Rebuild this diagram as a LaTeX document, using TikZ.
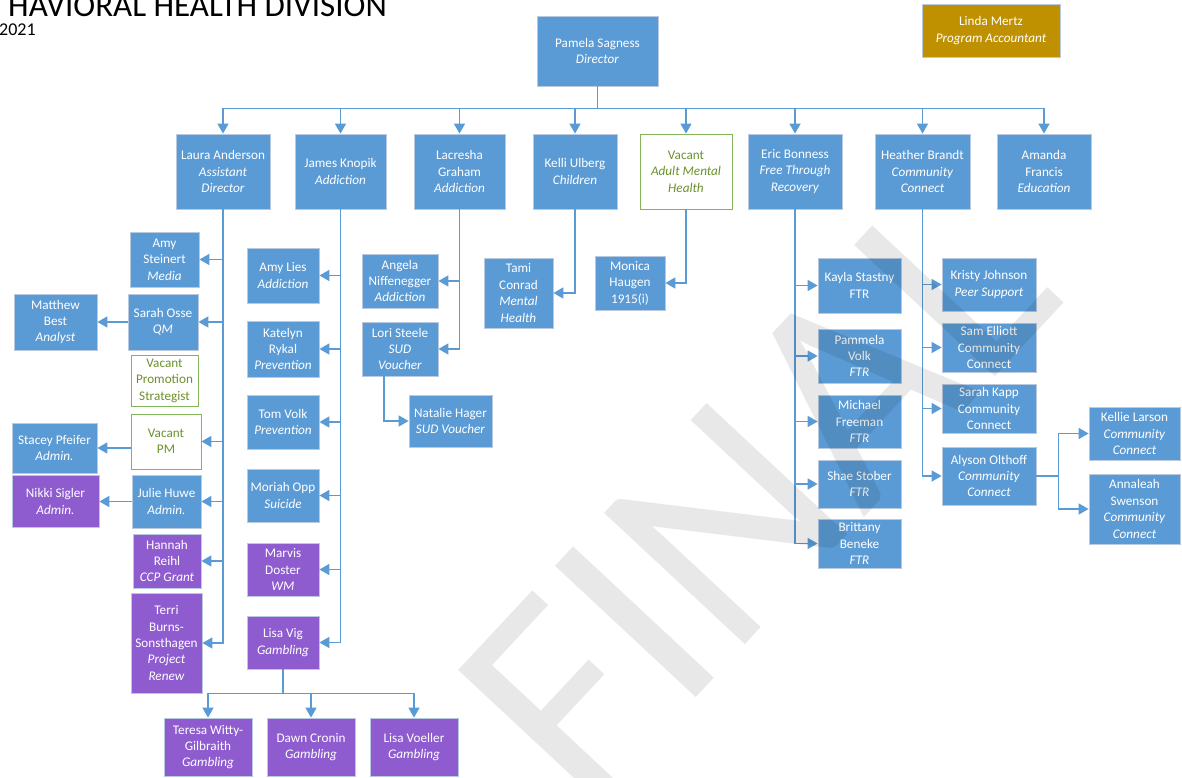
\documentclass[tikz,border=0pt]{standalone}
\usepackage{fontspec}
\setmainfont{Carlito}
\usetikzlibrary{arrows.meta}

\definecolor{boxblue}{RGB}{91,155,213}
\definecolor{boxpurple}{RGB}{143,92,208}
\definecolor{boxgold}{RGB}{191,144,0}
\definecolor{edgegrey}{RGB}{185,202,224}
\definecolor{vacgreen}{RGB}{130,180,90}
\definecolor{vactext}{RGB}{109,145,45}
\definecolor{linkblue}{RGB}{91,155,213}
\newcommand{\orgfont}{\fontsize{13.2}{16.4}\selectfont}

\tikzset{>={Triangle[length=10pt,width=11pt]}}
\tikzset{
  staff/.style={draw=edgegrey, line width=0.8pt, fill=boxblue, text=white,
    align=center, inner sep=0pt, font=\orgfont},
  staffp/.style={staff, fill=boxpurple},
  vacant/.style={staff, draw=vacgreen, fill=white, text=vactext},
  wh/.style 2 args={minimum width=#1pt, minimum height=#2pt},
  link/.style={draw=linkblue, line width=1.6pt, ->},
}

\begin{document}
\begin{tikzpicture}[x=1pt,y=-1pt]
  \useasboundingbox (0,0) rectangle (1182,778);
  \clip (0,0) rectangle (1182,778);
  \node[anchor=base west, font=\fontsize{33}{33}\selectfont, inner sep=0pt] (title) at (8,17) {HAVIORAL HEALTH DIVISION};
  \node[anchor=base west, font=\fontsize{18}{18}\selectfont, inner sep=0pt] (year) at (-1,36) {2021};

  % top of the chart
  \node[staff, wh={121}{70}] (director) at (597.5,51) {Pamela Sagness\\\textit{Director}};
  \node[staff, fill=boxgold, wh={138}{53}] (accountant) at (991,30.5) {Linda Mertz\\\textit{Program Accountant}};

  \node[staff, wh={94}{75}] (laura) at (223,171.5) {Laura Anderson\\\textit{Assistant}\\\textit{Director}};
  \node[staff, wh={91}{75}] (james) at (340.5,171.5) {James Knopik\\\textit{Addiction}};
  \node[staff, wh={91}{75}] (lacresha) at (459.5,171.5) {Lacresha\\Graham\\\textit{Addiction}};
  \node[staff, wh={84}{75}] (kelli) at (575,171.5) {Kelli Ulberg\\\textit{Children}};
  \node[vacant, wh={92}{75}] (vacamh) at (686,171.5) {Vacant\\\textit{Adult Mental}\\\textit{Health}};
  \node[staff, wh={94}{75}] (eric) at (795,171.5) {Eric Bonness\\\textit{Free Through}\\\textit{Recovery}};
  \node[staff, wh={95}{75}] (heather) at (922.5,171.5) {Heather Brandt\\\textit{Community}\\\textit{Connect}};
  \node[staff, wh={94}{75}] (amanda) at (1044,171.5) {Amanda\\Francis\\\textit{Education}};

  \foreach \n in {laura,james,lacresha,kelli,vacamh,eric,heather,amanda}
    \draw[link] (director.south) -- ++(0,22) -| (\n.north);

  % assistant director
  \node[staff, wh={69}{55}] (amys) at (164.5,259.5) {Amy\\Steinert\\\textit{Media}};
  \node[staff, wh={70}{56}] (sarah) at (163,322) {Sarah Osse\\\textit{QM}};
  \node[staff, wh={83}{56}] (matthew) at (55.5,322) {Matthew\\Best\\\textit{Analyst}};
  \node[vacant, wh={67}{51}] (vacps) at (164.5,380.5) {Vacant\\Promotion\\Strategist};
  \node[vacant, wh={70}{55}] (vacpm) at (166,441.5) {Vacant\\PM};
  \node[staff, wh={85}{50}] (stacey) at (54.5,448) {Stacey Pfeifer\\\textit{Admin.}};
  \node[staff, wh={69}{53}] (julie) at (166.5,501.5) {Julie Huwe\\\textit{Admin.}};
  \node[staffp, wh={87}{52}] (nikki) at (55.5,501.5) {Nikki Sigler\\\textit{Admin.}};
  \node[staffp, wh={68}{54}] (hannah) at (167,561) {Hannah\\Reihl\\\textit{CCP Grant}};
  \node[staffp, wh={71}{100}] (terri) at (166.5,643) {Terri\\Burns-\\Sonsthagen\\\textit{Project}\\\textit{Renew}};

  \foreach \n in {amys,sarah,vacpm,julie,hannah,terri}
    \draw[link] (laura.south) |- (\n.east);
  \draw[link] (sarah.west) -- (matthew.east);
  \draw[link] (vacpm.west |- stacey.east) -- (stacey.east);
  \draw[link] (julie.west) -- (nikki.east);

  % addiction
  \node[staff, wh={72}{55}] (amyl) at (283,275.5) {Amy Lies\\\textit{Addiction}};
  \node[staff, wh={72}{56}] (katelyn) at (283,349) {Katelyn\\Rykal\\\textit{Prevention}};
  \node[staff, wh={72}{54}] (tom) at (283,422) {Tom Volk\\\textit{Prevention}};
  \node[staff, wh={72}{53}] (moriah) at (283,495.5) {Moriah Opp\\\textit{Suicide}};
  \node[staffp, wh={72}{53}] (marvis) at (283,569.5) {Marvis\\Doster\\\textit{WM}};
  \node[staffp, wh={72}{53}] (lisavig) at (283,642.5) {Lisa Vig\\\textit{Gambling}};
  \node[staffp, wh={88}{58}] (teresa) at (208,747) {Teresa Witty-\\Gilbraith\\\textit{Gambling}};
  \node[staffp, wh={88}{58}] (dawn) at (311,747) {Dawn Cronin\\\textit{Gambling}};
  \node[staffp, wh={88}{58}] (lisavoeller) at (414,747) {Lisa Voeller\\\textit{Gambling}};

  \foreach \n in {amyl,katelyn,tom,moriah,marvis,lisavig}
    \draw[link] (james.south) |- (\n.east);
  \foreach \n in {teresa,dawn,lisavoeller}
    \draw[link] (lisavig.south) -- ++(0,24) -| (\n.north);

  \node[staff, wh={76}{54}] (angela) at (400,281) {Angela\\Niffenegger\\\textit{Addiction}};
  \node[staff, wh={76}{54}] (lori) at (400,349) {Lori Steele\\\textit{SUD}\\\textit{Voucher}};
  \node[staff, wh={83}{52}] (natalie) at (450.5,421) {Natalie Hager\\\textit{SUD Voucher}};
  \draw[link] (lacresha.south) |- (angela.east);
  \draw[link] (lacresha.south) |- (lori.east);
  \draw[link] ([xshift=-16pt]lori.south) |- (natalie.west);

  % children and mental health
  \node[staff, wh={69}{70}] (tami) at (518.5,293) {Tami\\Conrad\\\textit{Mental}\\\textit{Health}};
  \node[staff, wh={70}{54}] (monica) at (630,283) {Monica\\Haugen\\1915(i)};
  \draw[link] (kelli.south) |- (tami.east);
  \draw[link] (vacamh.south) |- (monica.east);

  % free through recovery
  \node[staff, wh={83}{55}] (kayla) at (859.5,285.5) {Kayla Stastny\\FTR};
  \node[staff, wh={83}{54}] (pammela) at (859.5,356) {Pammela\\Volk\\\textit{FTR}};
  \node[staff, wh={83}{53}] (michael) at (859.5,421.5) {Michael\\Freeman\\\textit{FTR}};
  \node[staff, wh={83}{48}] (shae) at (859.5,484) {Shae Stober\\\textit{FTR}};
  \node[staff, wh={83}{49}] (brittany) at (859.5,543.5) {Brittany\\Beneke\\\textit{FTR}};
  \foreach \n in {kayla,pammela,michael,shae,brittany}
    \draw[link] (eric.south) |- (\n.west);

  % community connect
  \node[staff, wh={94}{53}] (kristy) at (989,284.5) {Kristy Johnson\\\textit{Peer Support}};
  \node[staff, wh={94}{49}] (sam) at (989,347.5) {Sam Elliott\\Community\\Connect};
  \node[staff, wh={94}{49}] (sarahk) at (989,408.5) {Sarah Kapp\\Community\\Connect};
  \node[staff, wh={94}{58}] (alyson) at (989,476) {Alyson Olthoff\\\textit{Community}\\\textit{Connect}};
  \node[staff, wh={91}{53}] (kellie) at (1134.5,433.5) {Kellie Larson\\\textit{Community}\\\textit{Connect}};
  \node[staff, wh={91}{70}] (annaleah) at (1134.5,509) {Annaleah\\Swenson\\\textit{Community}\\\textit{Connect}};
  \foreach \n in {kristy,sam,sarahk,alyson}
    \draw[link] (heather.south) |- (\n.west);
  \draw[link] (alyson.east) -- ++(22,0) |- (kellie.west);
  \draw[link] (alyson.east) -- ++(22,0) |- (annaleah.west);

  % watermark over everything
  \node[rotate=47, text=black, text opacity=0.09, inner sep=0pt,
    font=\fontsize{300}{300}\selectfont] (stamp) at (756,492) {FINAL};
\end{tikzpicture}
\end{document}
